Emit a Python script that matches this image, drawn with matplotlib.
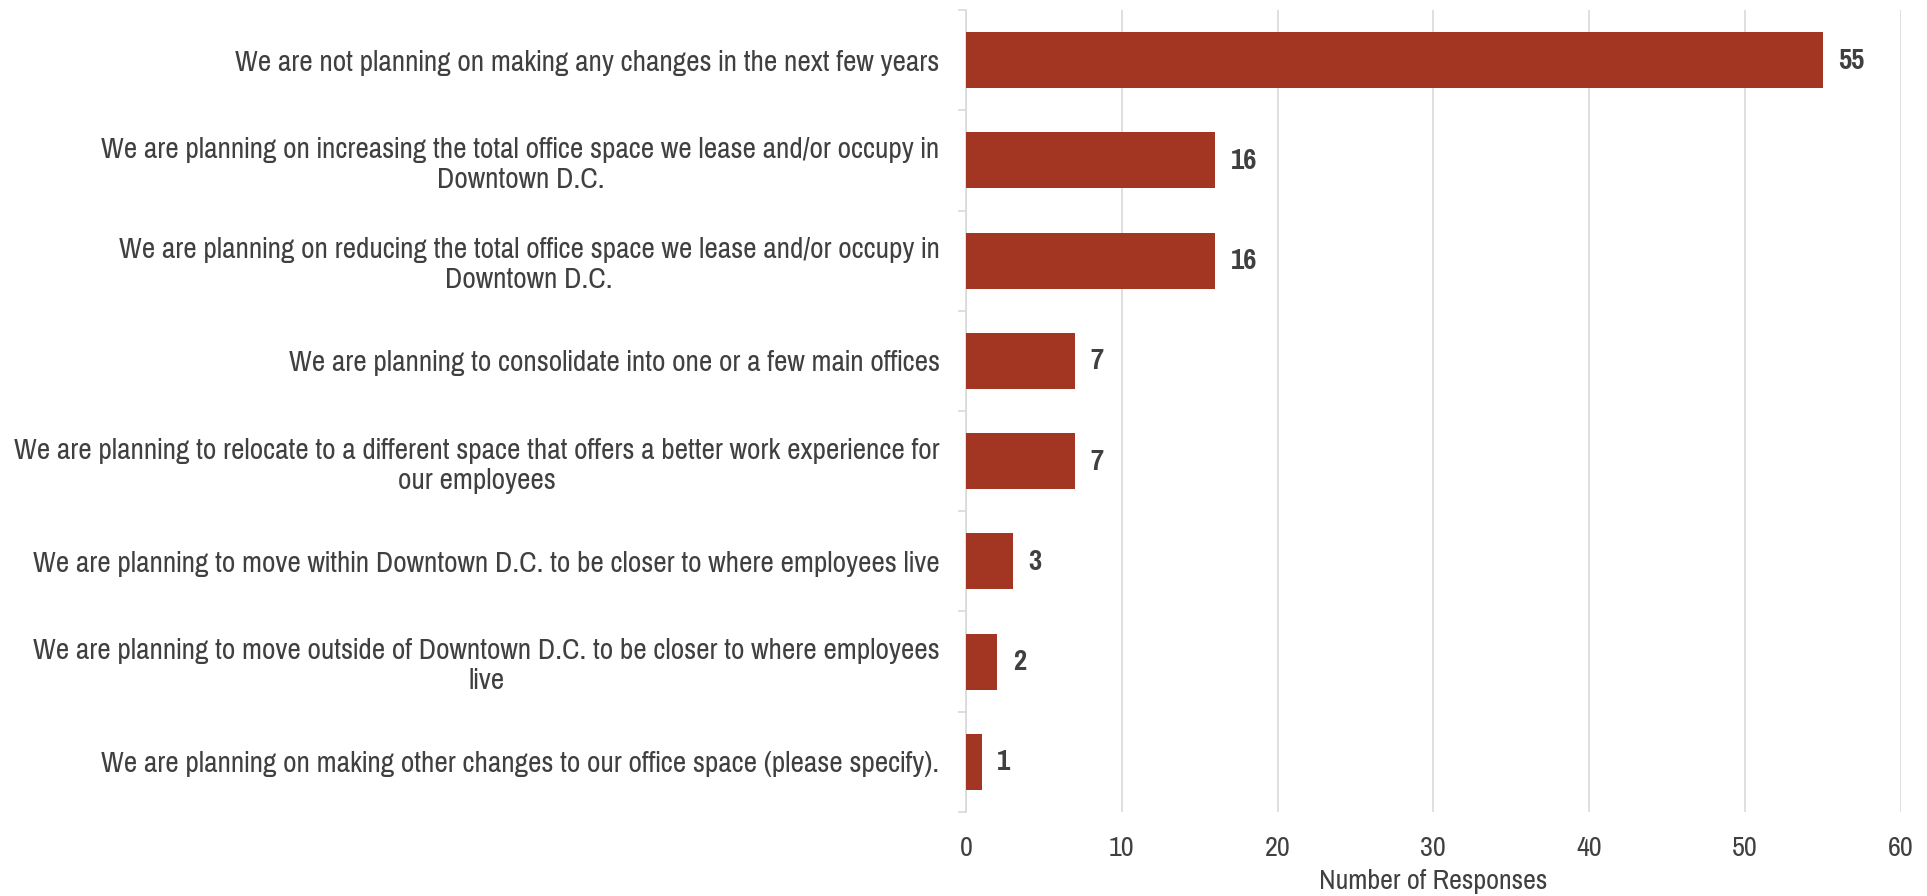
import matplotlib
matplotlib.use('Agg')
import matplotlib.pyplot as plt
import numpy as np

plt.rcParams['font.family'] = ['Pragati Narrow', 'Liberation Sans', 'DejaVu Sans']

labels = [
    'We are not planning on making any changes in the next few years',
    'We are planning on increasing the total office space we lease and/or occupy in\nDowntown D.C.',
    'We are planning on reducing the total office space we lease and/or occupy in\nDowntown D.C.',
    'We are planning to consolidate into one or a few main offices',
    'We are planning to relocate to a different space that offers a better work experience for\nour employees',
    'We are planning to move within Downtown D.C. to be closer to where employees live',
    'We are planning to move outside of Downtown D.C. to be closer to where employees\nlive',
    'We are planning on making other changes to our office space (please specify).',
]
responses = [55, 16, 16, 7, 7, 3, 2, 1]

BAR = '#a33622'
TXT = '#404040'
GRID = '#d9d9d9'

fig = plt.figure(figsize=(19.27, 8.96), dpi=100)
ax = fig.add_axes([0.5013, 0.0938, 0.4850, 0.8950])

y = np.arange(len(labels))
ax.barh(y, responses, height=0.56, color=BAR, zorder=3)
for yi, v in zip(y, responses):
    ax.text(v + 1.0, yi, str(v), va='center', ha='left', fontsize=22.5,
            fontweight='bold', color=TXT, zorder=4)

ax.set_ylim(len(labels) - 0.5, -0.5)
ax.set_xlim(0, 60)
ax.set_xticks(range(0, 61, 10))
ax.set_yticks(y)
ax.set_yticklabels(labels)
for t in ax.get_yticklabels():
    t.set_multialignment('center')
    t.set_linespacing(1.2)
ax.tick_params(axis='y', length=0, pad=19, labelsize=23, labelcolor=TXT)
ax.set_yticks(np.arange(-0.5, len(labels) + 0.5), minor=True)
ax.tick_params(axis='y', which='minor', length=6, color=GRID, width=1.2)
ax.tick_params(axis='x', length=0, pad=17, labelsize=22, labelcolor=TXT)

ax.grid(axis='x', color=GRID, linewidth=1.2, zorder=0)
for s in ('top', 'right', 'bottom'):
    ax.spines[s].set_visible(False)
ax.spines['left'].set_color(GRID)
ax.spines['left'].set_linewidth(1.2)

ax.set_xlabel('Number of Responses', fontsize=22, color=TXT, labelpad=6)

fig.savefig('out.png', dpi=100)
